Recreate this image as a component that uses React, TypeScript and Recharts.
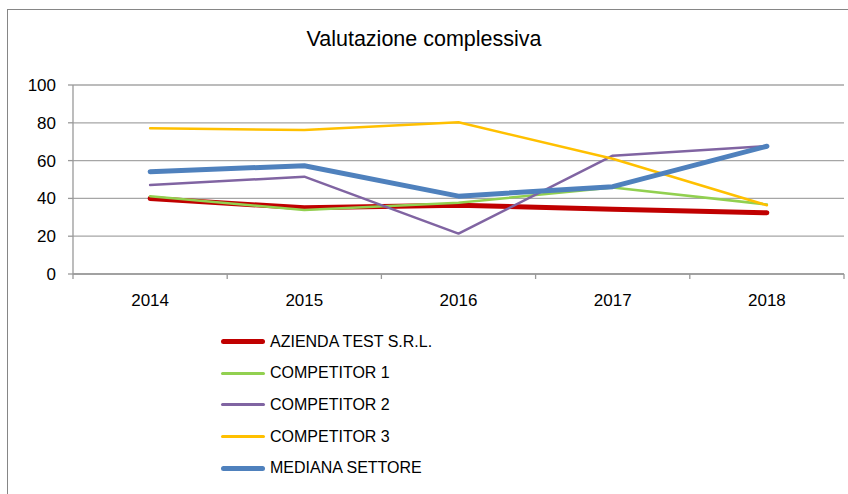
import React from "react"
import { ComposedChart, Line, XAxis, YAxis, CartesianGrid } from "recharts"

const years = ["2014", "2015", "2016", "2017", "2018"]
const azienda = [40, 35, 36.4, 34.2, 32.4]
const competitor1 = [41.2, 33.8, 37.7, 45.8, 36.8]
const competitor2 = [47.1, 51.5, 21.4, 62.6, 67.7]
const competitor3 = [77.1, 76.2, 80.3, 61, 36.4]
const mediana = [54.1, 57.3, 41.2, 46.2, 67.6]
const yTicks = [0, 20, 40, 60, 80, 100]

const series = [
  { key: "azienda", name: "AZIENDA TEST S.R.L.", color: "#C00000", width: 5, values: azienda },
  { key: "c1", name: "COMPETITOR 1", color: "#92D050", width: 2.5, values: competitor1 },
  { key: "c2", name: "COMPETITOR 2", color: "#8064A2", width: 2.5, values: competitor2 },
  { key: "c3", name: "COMPETITOR 3", color: "#FFC000", width: 2.5, values: competitor3 },
  { key: "mediana", name: "MEDIANA SETTORE", color: "#4F81BD", width: 5, values: mediana },
]

const data = years.map((year, i) => {
  const row: Record<string, string | number> = { year }
  series.forEach(s => { row[s.key] = s.values[i] })
  return row
})

const font = "'Liberation Sans', Arial, sans-serif"
const X_TICK_GAP = 20

// Excel style: label in the middle of the category, tick marks on the category edges
const YearTick = (props: any) => {
  const { x, y, payload, index, visibleTicksCount, width } = props
  const half = width && visibleTicksCount ? width / visibleTicksCount / 2 : 0
  const axisY = y - X_TICK_GAP
  const last = index === visibleTicksCount - 1
  return (
    <g>
      <line x1={x - half} x2={x - half} y1={axisY} y2={axisY + 5} stroke="#999" strokeWidth={1.3} />
      {last && <line x1={x + half} x2={x + half} y1={axisY} y2={axisY + 5} stroke="#999" strokeWidth={1.3} />}
      <text x={x} y={y} dy="0.71em" textAnchor="middle" fill="#000" fontSize={17} fontFamily={font}>
        {payload.value}
      </text>
    </g>
  )
}

export default function App() {
  return (
    <div style={{ position: "absolute", left: 0, top: 0, width: 848, height: 494, overflow: "hidden", background: "#fff", fontFamily: font }}>
      {/* chart frame */}
      <div style={{ position: "absolute", left: 7, top: 9, width: 860, height: 500, border: "1px solid #868686" }} />
      <div style={{ position: "absolute", left: 0, width: 860, top: 27, textAlign: "center", fontSize: 21.5, color: "#000" }}>
        <span style={{ position: "relative", left: -6 }}>Valutazione complessiva</span>
      </div>
      <div style={{ position: "absolute", left: 0, top: 0 }}>
        <ComposedChart width={848} height={494} data={data} margin={{ top: 85, right: 4, left: 0, bottom: 180 }}>
          <CartesianGrid vertical={false} stroke="#A6A6A6" strokeWidth={1.3} />
          <XAxis
            dataKey="year"
            scale="band"
            height={40}
            tickLine={false}
            tickSize={0}
            tickMargin={X_TICK_GAP}
            axisLine={{ stroke: "#999", strokeWidth: 1.3 }}
            tick={<YearTick />}
            interval={0}
          />
          <YAxis
            width={73}
            domain={[0, 100]}
            ticks={yTicks}
            interval={0}
            tickSize={5}
            tickMargin={12}
            axisLine={{ stroke: "#999", strokeWidth: 1.3 }}
            tickLine={{ stroke: "#999", strokeWidth: 1.3 }}
            tick={{ fill: "#000", fontSize: 17, fontFamily: font }}
          />
          {series.map(s => (
            <Line
              key={s.key}
              dataKey={s.key}
              name={s.name}
              stroke={s.color}
              strokeWidth={s.width}
              strokeLinecap="round"
              strokeLinejoin="round"
              dot={false}
              activeDot={false}
              isAnimationActive={false}
            />
          ))}
        </ComposedChart>
      </div>
      {/* legend */}
      <div style={{ position: "absolute", left: 221, top: 326 }}>
        {series.map(s => (
          <div key={s.key} style={{ display: "flex", alignItems: "center", height: 31.6 }}>
            <div style={{ width: 44, height: s.width === 5 ? 5 : 3, borderRadius: 3, background: s.color, marginRight: 5 }} />
            <span style={{ fontSize: 16, color: "#000", whiteSpace: "nowrap" }}>{s.name}</span>
          </div>
        ))}
      </div>
    </div>
  )
}
